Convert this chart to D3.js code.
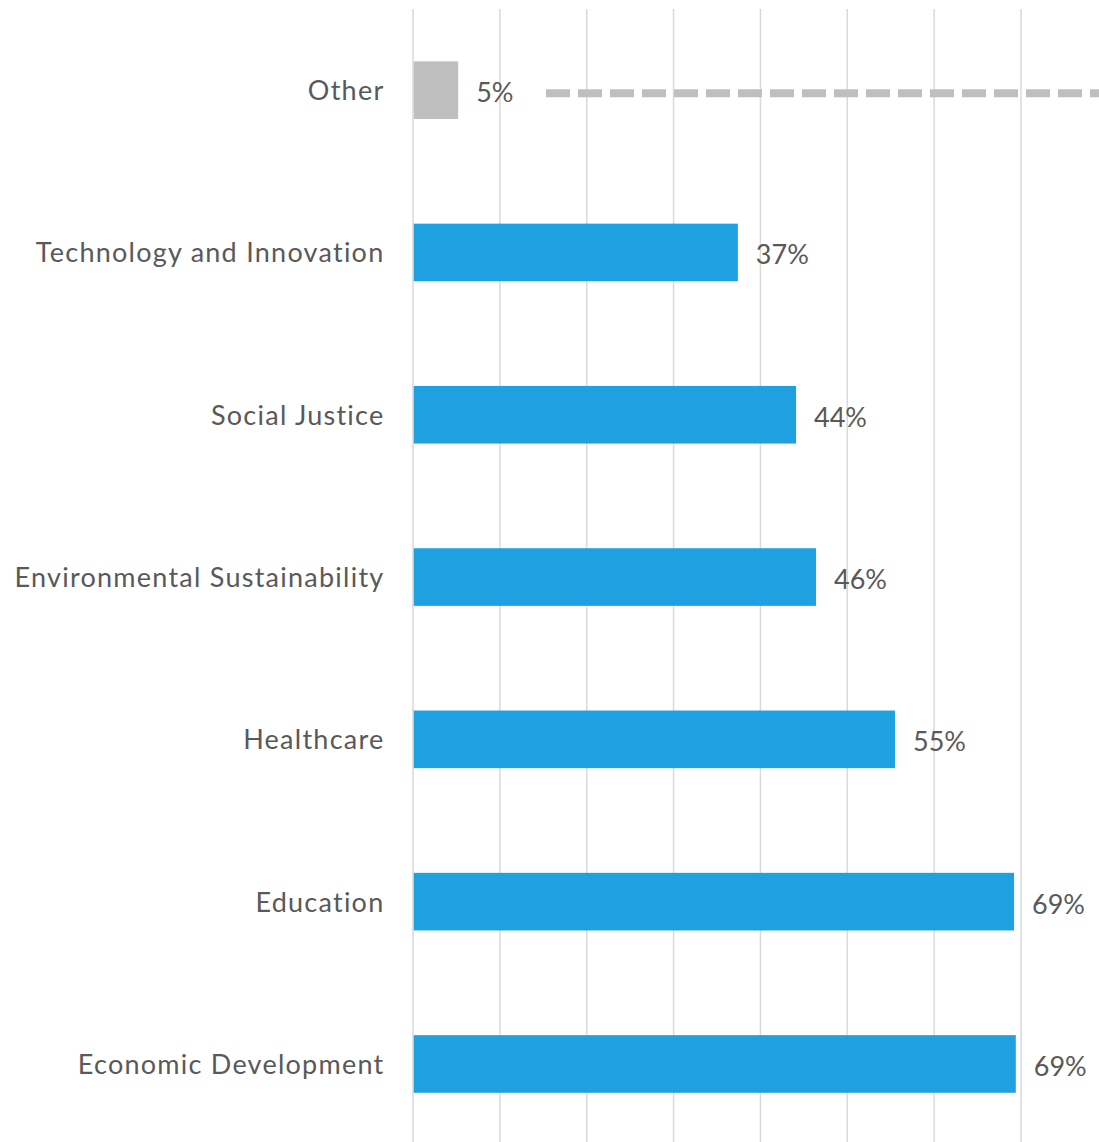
<!DOCTYPE html>
<html>
<head>
<meta charset="utf-8">
<script src="https://cdn.jsdelivr.net/npm/d3@7"></script>
<style>
  html, body { margin: 0; padding: 0; background: #fff; }
  svg { display: block; }
</style>
</head>
<body>
<svg id="chart" width="1099" height="1142"></svg>
<script>
// Share of respondents naming each focus area (%)
const categories = [
  "Other",
  "Technology and Innovation",
  "Social Justice",
  "Environmental Sustainability",
  "Healthcare",
  "Education",
  "Economic Development"
];
const values = [5.2, 37.4, 44.1, 46.4, 55.49, 69.2, 69.4];
const gridTicks = [0, 10, 20, 30, 40, 50, 60, 70, 80];

const svg = d3.select("#chart");
const W = 1099, H = 1142;
const plotLeft = 413, plotTop = 9;
const step = 162.3;

const x = d3.scaleLinear().domain([0, 70]).range([plotLeft, 1021]);
const y = d3.scaleBand()
  .domain(categories)
  .range([plotTop, plotTop + step * categories.length])
  .paddingInner(0.645)
  .paddingOuter(0.3225);

const font = "Lato, 'Open Sans', sans-serif";
const textColor = "#595959";

// vertical gridlines
svg.append("g")
  .selectAll("line")
  .data(gridTicks.filter(t => x(t) <= W))
  .join("line")
  .attr("x1", d => x(d)).attr("x2", d => x(d))
  .attr("y1", plotTop).attr("y2", H)
  .attr("stroke", "#d9d9d9")
  .attr("stroke-width", 1.5);

// bars
svg.append("g")
  .selectAll("rect")
  .data(categories)
  .join("rect")
  .attr("x", x(0) + 0.75)
  .attr("y", d => y(d))
  .attr("width", (d, i) => x(values[i]) - x(0) - 0.75)
  .attr("height", y.bandwidth())
  .attr("fill", d => d === "Other" ? "#bfbfbf" : "#1fa0e0");

// dashed marker line beside "Other"
const oy = y("Other") + y.bandwidth() / 2 + 3;
svg.append("line")
  .attr("x1", 546).attr("x2", W + 10)
  .attr("y1", oy).attr("y2", oy)
  .attr("stroke", "#bfbfbf")
  .attr("stroke-width", 8)
  .attr("stroke-dasharray", "24 8");

// category labels (right-aligned; trailing letter-spacing compensated in x)
svg.append("g")
  .selectAll("text")
  .data(categories)
  .join("text")
  .attr("x", 384.5)
  .attr("y", d => y(d) + y.bandwidth() / 2 + 10)
  .attr("text-anchor", "end")
  .attr("font-family", font)
  .attr("font-size", 27)
  .attr("letter-spacing", 1.25)
  .attr("fill", textColor)
  .text(d => d);

// value labels
svg.append("g")
  .selectAll("text")
  .data(categories)
  .join("text")
  .attr("x", (d, i) => x(values[i]) + 18)
  .attr("y", d => y(d) + y.bandwidth() / 2 + 12)
  .attr("font-family", font)
  .attr("font-size", 27)
  .attr("fill", textColor)
  .text((d, i) => Math.round(values[i]) + "%");
</script>
</body>
</html>
